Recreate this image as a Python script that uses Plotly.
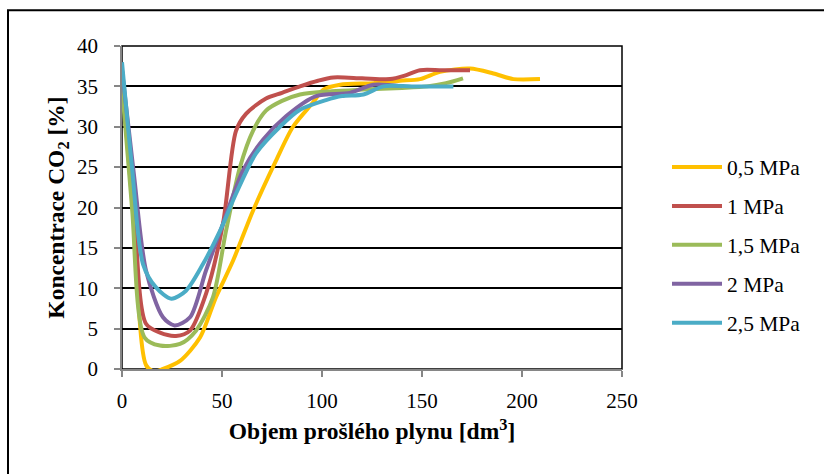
import plotly.graph_objects as go

series_names = ["0,5 MPa", "1 MPa", "1,5 MPa", "2 MPa", "2,5 MPa"]
series_colors = ["#FFC000", "#C0504D", "#9BBB59", "#8064A2", "#4BACC6"]

x_05 = [0, 6, 12, 16, 20.5, 29, 39, 47, 55.5, 65.5, 77, 85.5, 95.5, 100.7, 109, 125.7, 139, 149, 159, 174, 185.7, 195.7, 209]
y_05 = [36, 18, 0.5, -0.3, 0, 1, 3.9, 8.9, 13.4, 19.6, 25.8, 30, 33, 34.6, 35.2, 35.4, 35.7, 35.9, 36.8, 37.2, 36.6, 35.9, 35.9]

x_1 = [0, 6, 12, 19, 27, 34, 42, 50.5, 57, 62, 72, 80, 89, 98, 105.7, 120, 134, 141, 149, 160, 174]
y_1 = [37, 20, 5.6, 4.5, 4.1, 4.75, 9.3, 18, 29.5, 31.6, 33.5, 34.2, 35, 35.7, 36.1, 36, 35.9, 36.3, 37, 37, 37]

x_15 = [0, 5, 11.3, 19, 29, 37, 45.5, 52, 59, 65.5, 72, 80, 89, 105, 120.5, 140, 152.5, 162, 170.5]
y_15 = [35, 20, 3.9, 2.9, 3.1, 4.75, 8.9, 17.1, 25, 29.5, 32, 33.2, 34, 34.4, 34.6, 34.8, 35, 35.4, 36]

x_2 = [0, 6, 12, 20.5, 26.3, 34, 42, 50.5, 60.5, 70.5, 82, 97, 114, 125.7, 140]
y_2 = [37, 24, 12.2, 6.4, 5.4, 6.4, 12.2, 18, 24.6, 28.4, 31.3, 33.8, 34.2, 35.2, 35]

x_25 = [0, 5, 10.5, 17, 24.7, 32, 40.5, 49, 57, 67, 79, 89, 102, 110, 120.7, 130.7, 145, 165.7]
y_25 = [38, 25, 13, 10.1, 8.7, 9.7, 13, 17.1, 21.7, 26.7, 30, 32.1, 33.3, 33.8, 34, 35, 35, 35]

x_ticks = [0, 50, 100, 150, 200, 250]
y_ticks = [0, 5, 10, 15, 20, 25, 30, 35, 40]

xs = [x_05, x_1, x_15, x_2, x_25]
ys = [y_05, y_1, y_15, y_2, y_25]

FONT = "Liberation Serif"

fig = go.Figure()
for i, (name, col) in enumerate(zip(series_names, series_colors)):
    fig.add_trace(go.Scatter(
        x=xs[i], y=ys[i], name=name, mode="lines",
        line=dict(color=col, width=4, shape="spline", smoothing=0.8),
        legendgroup=f"g{i}",
    ))

# plot area border (black), below axes
fig.add_shape(type="rect", xref="paper", yref="paper", x0=0, y0=0, x1=1, y1=1,
              line=dict(color="black", width=1.5), layer="below")
# outer chart frame
fig.add_shape(type="rect", xref="paper", yref="paper", x0=-0.228, y0=1.111, x1=1.42, y1=-0.35,
              line=dict(color="black", width=2), layer="below")

fig.update_layout(
    width=824, height=474,
    margin=dict(l=122, r=202, t=46, b=105),
    paper_bgcolor="white", plot_bgcolor="white",
    font=dict(family=FONT, size=20, color="black"),
    showlegend=True,
    legend=dict(x=1.09, y=0.384, xanchor="left", yanchor="middle",
                font=dict(family=FONT, size=21.5, color="black"),
                tracegroupgap=8, itemwidth=50, bgcolor="rgba(0,0,0,0)"),
    xaxis=dict(range=[0, 250], tickvals=x_ticks, showgrid=False,
               showline=True, linecolor="#868686", linewidth=1.5,
               ticks="outside", ticklen=6, tickcolor="#868686", tickwidth=1.5,
               tickfont=dict(family=FONT, size=21), ticklabelstandoff=6,
               zeroline=False,
               title=dict(text="<b>Objem prošlého plynu [dm<sup>3</sup>]</b>",
                          font=dict(family=FONT, size=23.5), standoff=11)),
    yaxis=dict(range=[0, 40], tickvals=y_ticks, showgrid=True,
               gridcolor="black", gridwidth=1.5,
               showline=True, linecolor="#868686", linewidth=1.5,
               ticks="outside", ticklen=6, tickcolor="#868686", tickwidth=1.5,
               tickfont=dict(family=FONT, size=21), ticklabelstandoff=12,
               zeroline=False,
               title=dict(text="<b>Koncentrace CO<sub>2</sub> [%]</b>",
                          font=dict(family=FONT, size=23.5), standoff=6)),
)

fig.write_html("out.html")
